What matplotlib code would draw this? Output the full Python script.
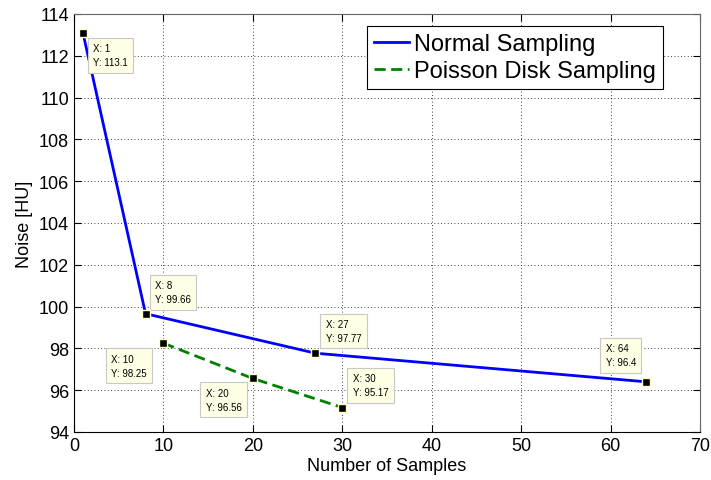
import matplotlib
matplotlib.use("Agg")
import matplotlib.pyplot as plt

plt.rcParams['font.family'] = ['Liberation Sans', 'DejaVu Sans']

# Noise vs. number of samples
normal_x = [1, 8, 27, 64]
normal_y = [113.1, 99.66, 97.77, 96.4]
poisson_x = [10, 20, 30]
poisson_y = [98.25, 96.56, 95.17]

# data tips: point, label, offset of the box edge (pixels) and box anchor
tip_x = [1, 8, 27, 64, 10, 20, 30]
tip_y = [113.1, 99.66, 97.77, 96.4, 98.25, 96.56, 95.17]
tip_text = ["113.1", "99.66", "97.77", "96.4", "98.25", "96.56", "95.17"]
tip_offset = [(5, -5), (4, 4), (5, 5), (-5, 9), (-11, -5), (-6, -4), (5, 5)]
tip_anchor = [("left", "top"), ("left", "bottom"), ("left", "bottom"),
              ("right", "bottom"), ("right", "top"), ("right", "top"),
              ("left", "bottom")]

tip_size = 7
tip_pad = 0.55
pad_px = tip_pad * tip_size * 100 / 72

fig = plt.figure(figsize=(7.11, 4.81), dpi=100)
ax = fig.add_axes([74 / 711, 1 - 433 / 481, 626 / 711, 418 / 481])

ax.plot(normal_x, normal_y, color="#0000ff", lw=2, label="Normal Sampling")
ax.plot(poisson_x, poisson_y, color="#008000", lw=2, ls=(0, (4, 2)),
        label="Poisson Disk Sampling")

ax.plot(tip_x, tip_y, ls="none", marker="s", ms=6, mfc="black",
        mec="#ffffc0", mew=1, zorder=7)

for x, y, t, (dx, dy), (ha, va) in zip(tip_x, tip_y, tip_text, tip_offset, tip_anchor):
    dx += pad_px if ha == "left" else -pad_px
    dy += pad_px if va == "bottom" else -pad_px
    ax.annotate("X: %g\nY: %s" % (x, t), (x, y), xytext=(dx, dy),
                textcoords="offset pixels", ha=ha, va=va, fontsize=tip_size,
                multialignment="left", linespacing=1.5,
                bbox=dict(boxstyle="square,pad=%g" % tip_pad, fc="#ffffe6",
                          ec="#c8c8c8", lw=0.8),
                zorder=6)

ax.set_xlim(0, 70)
ax.set_ylim(94, 114)
ax.set_xticks(range(0, 71, 10))
ax.set_yticks(range(94, 115, 2))
ax.grid(True, color="black", ls=(0, (1, 3)), lw=0.6)
ax.tick_params(direction="in", length=5, labelsize=13, top=True, right=True)
for s in ax.spines.values():
    s.set_linewidth(0.8)
ax.spines["top"].set_color("#666666")
ax.spines["right"].set_color("#666666")

ax.set_xlabel("Number of Samples", fontsize=13, labelpad=2)
ax.set_ylabel("Noise [HU]", fontsize=13, labelpad=4)

leg = ax.legend(loc="upper right", bbox_to_anchor=(663 / 711, 1 - 27 / 481),
                bbox_transform=fig.transFigure, fontsize=17, handlelength=1.5,
                handletextpad=0.2, borderpad=0.3, labelspacing=0.2,
                borderaxespad=0, fancybox=False, framealpha=1, edgecolor="black")
leg.get_frame().set_linewidth(0.8)

fig.savefig("out.png", dpi=100)
